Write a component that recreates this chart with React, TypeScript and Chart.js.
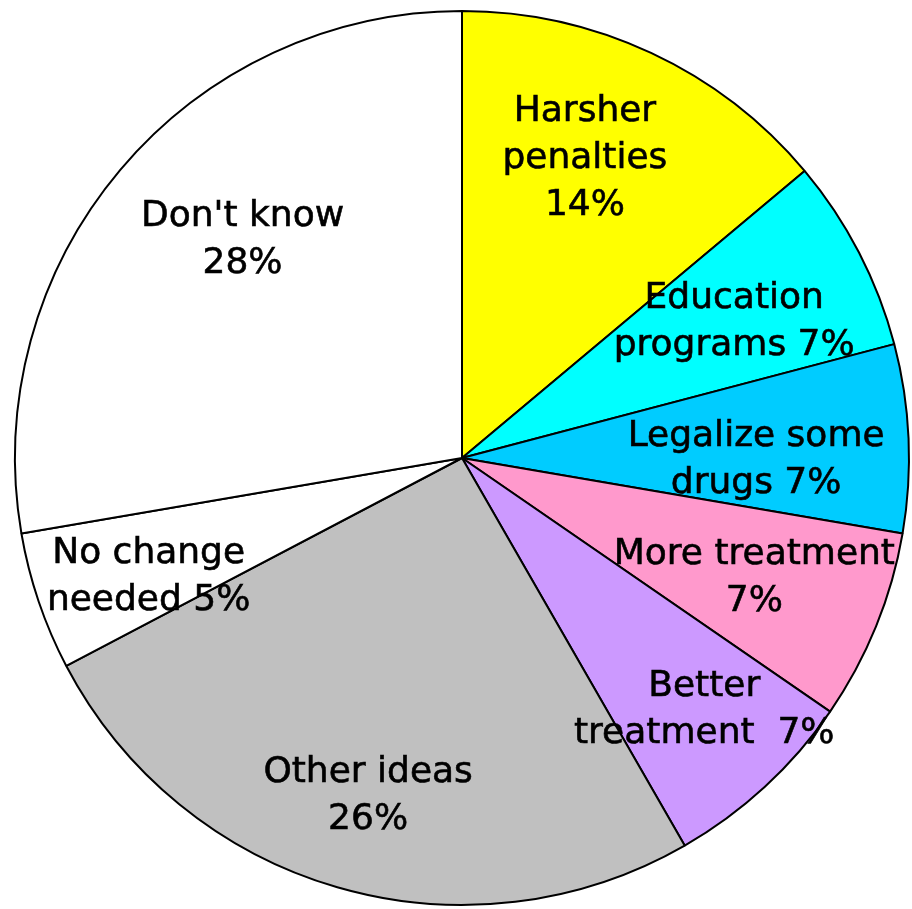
import React, { useEffect, useRef } from "react";
import { Chart, registerables } from "chart.js";

Chart.register(...registerables);

const categories = [
  "Harsher penalties",
  "Education programs",
  "Legalize some drugs",
  "More treatment",
  "Better treatment",
  "Other ideas",
  "No change needed",
  "Don't know",
];
const values = [13.9, 7.0, 6.8, 6.9, 7.1, 25.6, 5.0, 27.7];
// label text templates; {p} replaced by the computed percentage
const labelLines = [
  ["Harsher", "penalties", "{p}"],
  ["Education", "programs {p}"],
  ["Legalize some", "drugs {p}"],
  ["More treatment", "{p}"],
  ["Better", "treatment  {p}"],
  ["Other ideas", "{p}"],
  ["No change", "needed {p}"],
  ["Don't know", "{p}"],
];

// styling / placement (fractions of radius relative to pie centre)
const colors = ["#FFFF00", "#00FFFF", "#00CCFF", "#FF99CC", "#CC99FF", "#C0C0C0", "#FFFFFF", "#FFFFFF"];
const labelOffsets = [
  [0.275, -0.67],
  [0.609, -0.304],
  [0.658, 0.005],
  [0.654, 0.268],
  [0.542, 0.563],
  [-0.21, 0.757],
  [-0.701, 0.266],
  [-0.491, -0.487],
];

const labelPlugin = {
  id: "sliceLabels",
  afterDatasetsDraw(chart: any) {
    const ctx = chart.ctx;
    const meta = chart.getDatasetMeta(0);
    const data = chart.data.datasets[0].data as number[];
    const total = data.reduce((a, b) => a + b, 0);
    ctx.save();
    ctx.fillStyle = "#000";
    ctx.strokeStyle = "#000";
    ctx.lineWidth = 0.6;
    ctx.font = '36px "DejaVu Sans"';
    ctx.textAlign = "center";
    ctx.textBaseline = "middle";
    const lineH = 47;
    meta.data.forEach((arc: any, i: number) => {
      const p = Math.round((data[i] / total) * 100) + "%";
      const lines = labelLines[i].map((l) => l.replace("{p}", p));
      const r = arc.outerRadius;
      const cx = arc.x + labelOffsets[i][0] * r;
      const cy = arc.y + labelOffsets[i][1] * r;
      const start = cy - ((lines.length - 1) * lineH) / 2;
      lines.forEach((l, k) => {
        ctx.fillText(l, cx, start + k * lineH);
        ctx.strokeText(l, cx, start + k * lineH);
      });
    });
    ctx.restore();
  },
};

export default function App() {
  const ref = useRef<HTMLCanvasElement>(null);
  useEffect(() => {
    const chart = new Chart(ref.current as HTMLCanvasElement, {
      type: "pie",
      data: {
        labels: categories,
        datasets: [
          {
            data: values,
            backgroundColor: colors,
            borderColor: "#000",
            borderWidth: 2,
          },
        ],
      },
      options: {
        responsive: false,
        animation: false,
        layout: { padding: { left: 14, top: 10, right: 2, bottom: 3 } },
        plugins: { legend: { display: false }, tooltip: { enabled: false } },
      },
      plugins: [labelPlugin],
    });
    return () => chart.destroy();
  }, []);
  return (
    <div style={{ position: "fixed", left: 0, top: 0, width: 912, height: 909, background: "#fff" }}>
      <canvas ref={ref} width={912} height={909} style={{ display: "block" }} />
    </div>
  );
}
